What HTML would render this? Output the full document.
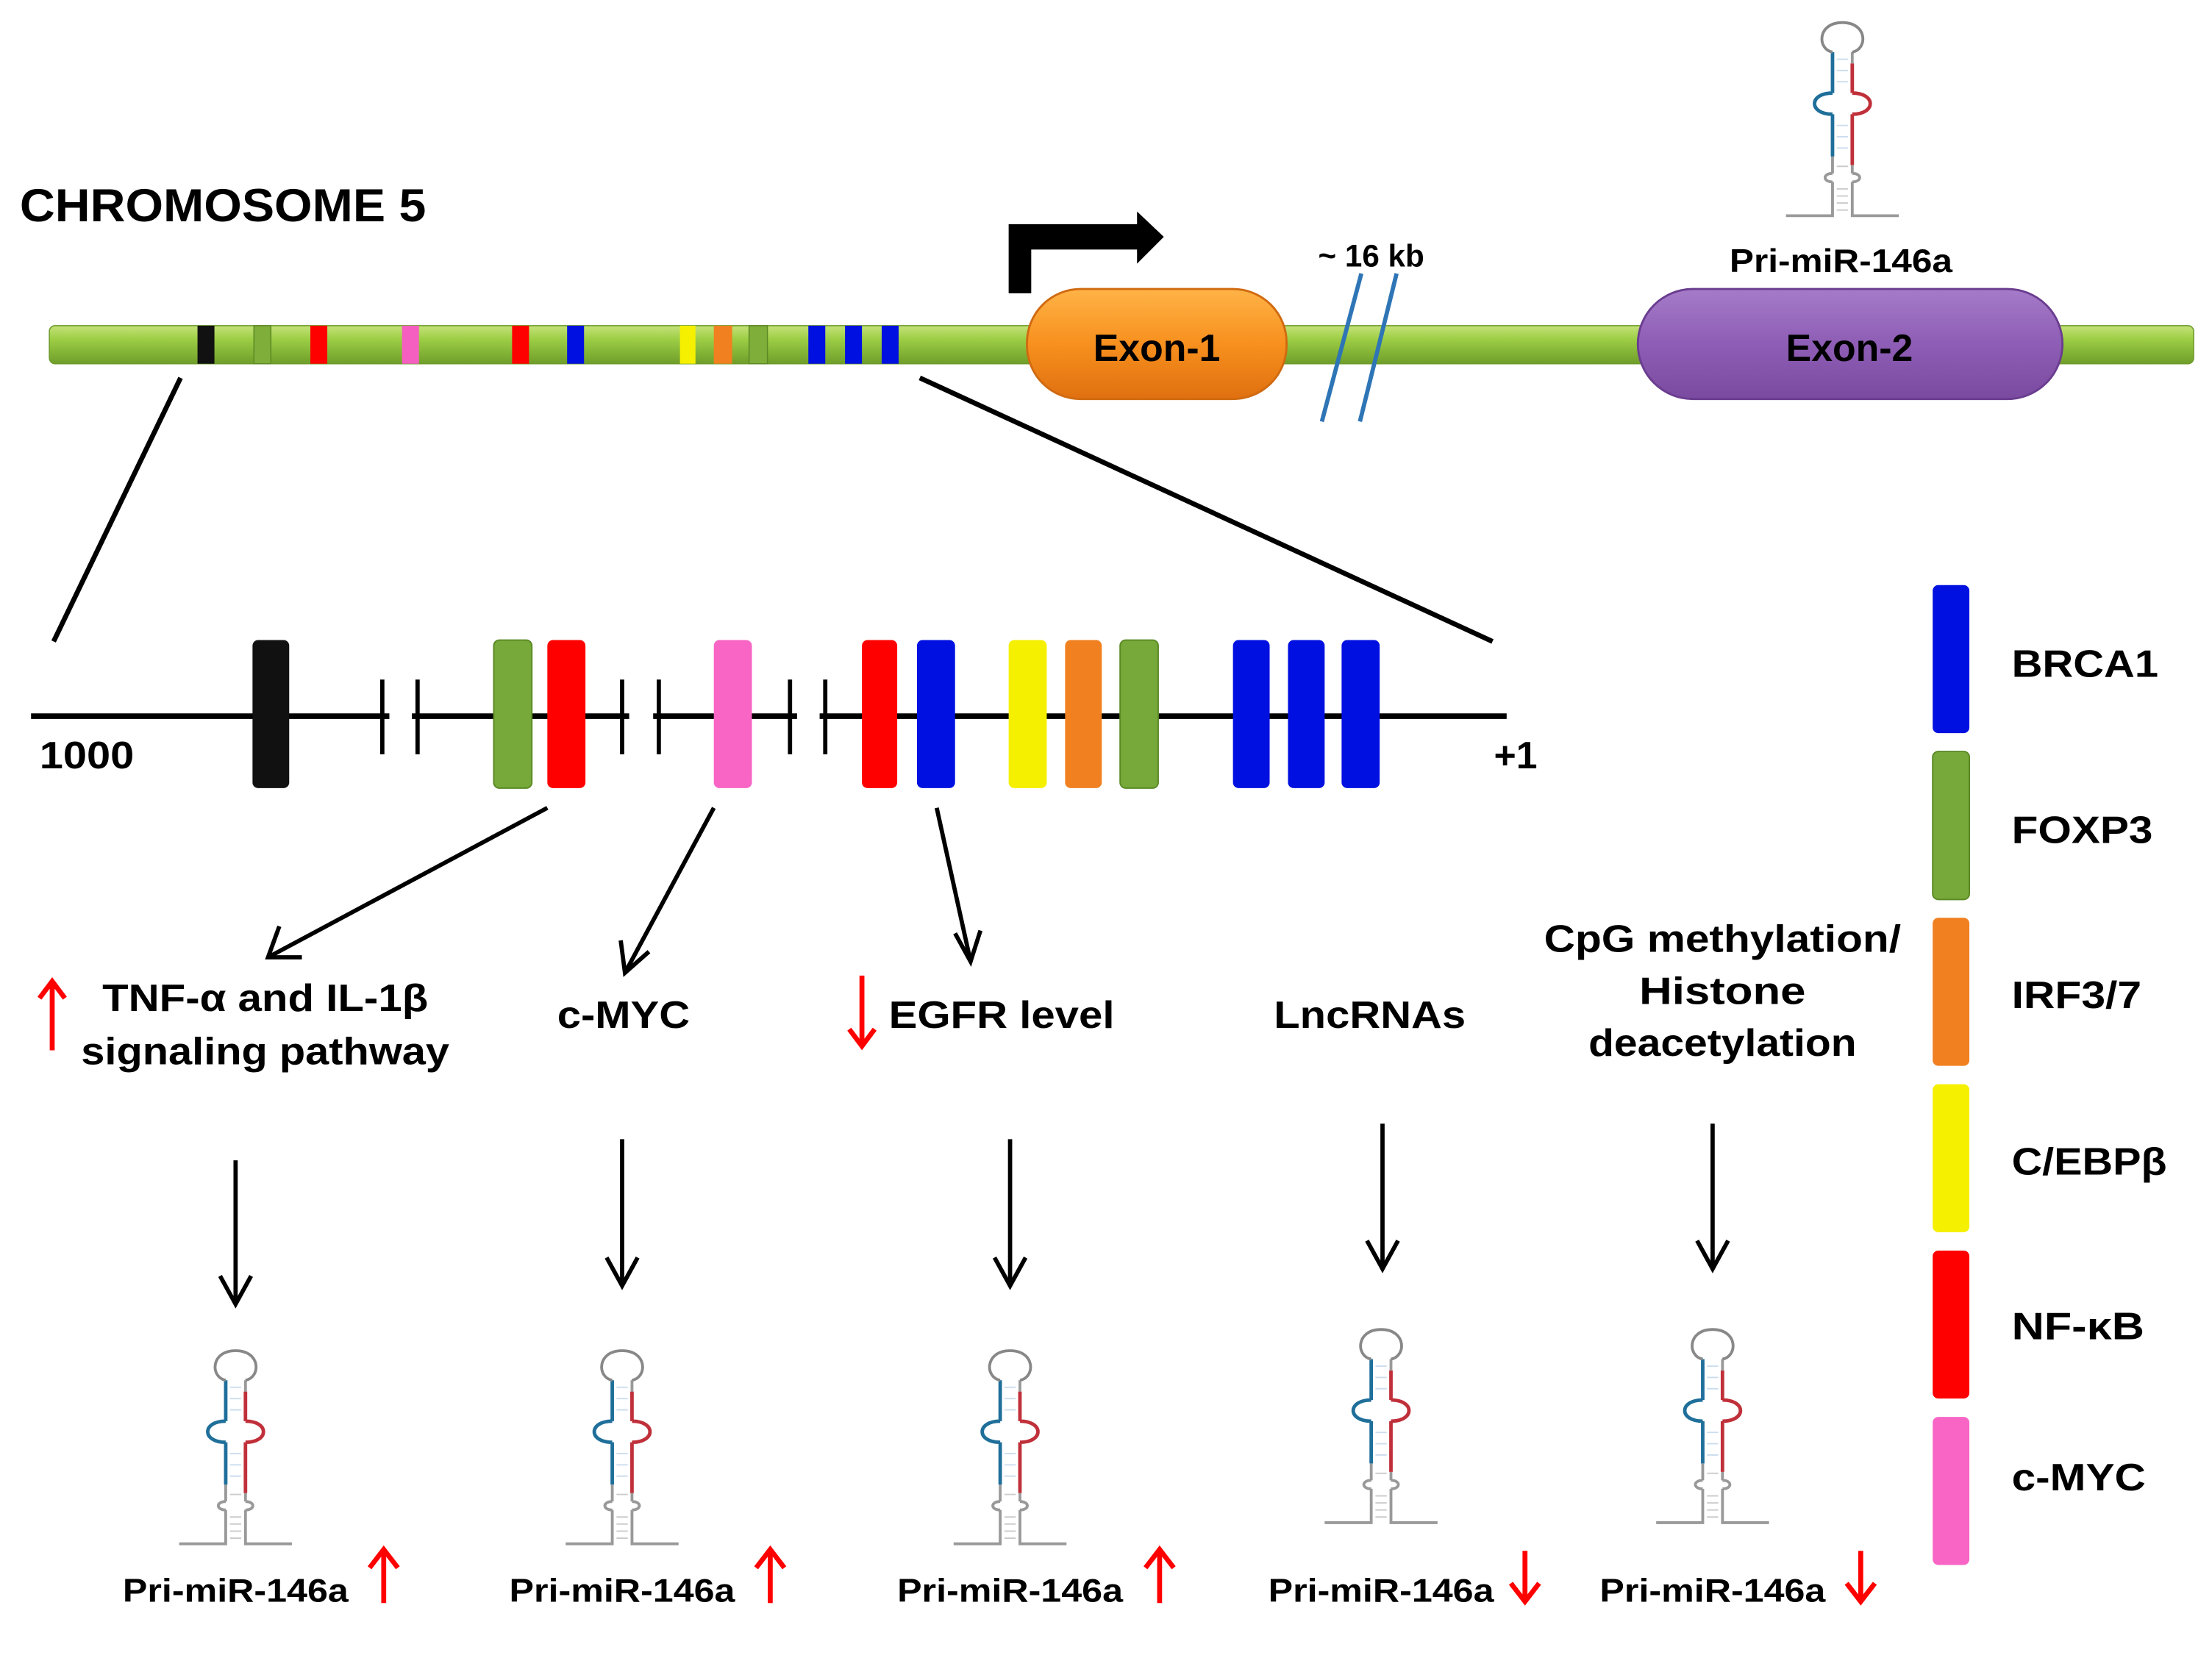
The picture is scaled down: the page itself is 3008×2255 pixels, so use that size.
<!DOCTYPE html>
<html><head><meta charset="utf-8"><style>
html,body{margin:0;padding:0;background:#fff;}
svg{display:block;}
text{font-family:"Liberation Sans",Arial,sans-serif;font-weight:bold;fill:#000;}
</style></head><body>
<svg width="3008" height="2255" viewBox="0 0 1568 1176" preserveAspectRatio="none" xmlns="http://www.w3.org/2000/svg">
<defs>
<linearGradient id="gbar" x1="0" y1="0" x2="0" y2="1"><stop offset="0" stop-color="#c5e27a"/><stop offset="0.35" stop-color="#9dce45"/><stop offset="1" stop-color="#6f9e2a"/></linearGradient>
<linearGradient id="gex1" x1="0" y1="0" x2="0" y2="1"><stop offset="0" stop-color="#ffb347"/><stop offset="0.5" stop-color="#f7901e"/><stop offset="1" stop-color="#e07010"/></linearGradient>
<linearGradient id="gex2" x1="0" y1="0" x2="0" y2="1"><stop offset="0" stop-color="#a57bc9"/><stop offset="0.5" stop-color="#8e5db5"/><stop offset="1" stop-color="#7a4aa0"/></linearGradient>
<g id="hp" fill="none" stroke-width="2">
  <path d="M-40,0 H-7 V-24 M40,0 H7 V-24" stroke="#999"/>
  <path d="M-7,-24 C-14,-24 -14,-30 -7,-30 M7,-24 C14,-24 14,-30 7,-30" stroke="#999"/>
  <path d="M-7,-30 V-42 M7,-30 V-36" stroke="#999"/>
  <path d="M-4,-4 H4 M-4,-9 H4 M-4,-14 H4 M-4,-19 H4 M-4,-35 H4" stroke="#ccc" stroke-width="1"/>
  <path d="M-4,-48 H4 M-4,-56 H4 M-4,-64 H4 M-4,-95 H4 M-4,-103 H4 M-4,-111 H4" stroke="#cde" stroke-width="1"/>
  <path d="M-7,-42 V-72 M-7,-87 V-116" stroke="#1f6f9a" stroke-width="2.5"/>
  <path d="M7,-36 V-72 M7,-87 V-108" stroke="#c0303a" stroke-width="2.5"/>
  <path d="M7,-108 V-116" stroke="#999"/>
  <path d="M-7,-72 C-24,-72 -24,-87 -7,-87" stroke="#1f6f9a" stroke-width="2.5"/>
  <path d="M7,-72 C24,-72 24,-87 7,-87" stroke="#c0303a" stroke-width="2.5"/>
  <path d="M-7,-116 C-18,-118 -18,-137 0,-137 C18,-137 18,-118 7,-116" stroke="#888"/>
</g>
</defs>

<text x="14" y="157" font-size="33" textLength="288" lengthAdjust="spacingAndGlyphs">CHROMOSOME 5</text>

<rect x="35" y="231" width="1520" height="27" rx="4" fill="url(#gbar)" stroke="#6c9a2a" stroke-width="0.8"/>
<g>
<rect x="140" y="231" width="12" height="27" fill="#111"/>
<rect x="180" y="231" width="12" height="27" fill="#7fae3a" stroke="#5d8a25" stroke-width="0.8"/>
<rect x="220" y="231" width="12" height="27" fill="#f00"/>
<rect x="285" y="231" width="12" height="27" fill="#f55fc0"/>
<rect x="363" y="231" width="12" height="27" fill="#f00"/>
<rect x="402" y="231" width="12" height="27" fill="#0010e0"/>
<rect x="482" y="231" width="11" height="27" fill="#f5f000"/>
<rect x="506" y="231" width="13" height="27" fill="#f08020"/>
<rect x="531" y="231" width="13" height="27" fill="#7fae3a" stroke="#5d8a25" stroke-width="0.8"/>
<rect x="573" y="231" width="12" height="27" fill="#0010e0"/>
<rect x="599" y="231" width="12" height="27" fill="#0010e0"/>
<rect x="625" y="231" width="12" height="27" fill="#0010e0"/>
</g>

<path d="M715,208 V159 H806 V150 L825,168 L806,187 V177 H731 V208 Z" fill="#000"/>

<rect x="728" y="205" width="184" height="78" rx="38" fill="url(#gex1)" stroke="#d06a10" stroke-width="1.5"/>
<text x="820" y="256" font-size="27" text-anchor="middle">Exon-1</text>
<rect x="1161" y="205" width="301" height="78" rx="39" fill="url(#gex2)" stroke="#6a3d8f" stroke-width="1.5"/>
<text x="1311" y="256" font-size="27" text-anchor="middle">Exon-2</text>

<line x1="965" y1="194" x2="937" y2="299" stroke="#2e75b6" stroke-width="3"/>
<line x1="990" y1="194" x2="964" y2="299" stroke="#2e75b6" stroke-width="3"/>
<text x="972" y="189" font-size="22" text-anchor="middle">~ 16 kb</text>

<use href="#hp" transform="translate(1306,153)"/>
<text x="1305" y="193" font-size="23" text-anchor="middle" textLength="158" lengthAdjust="spacingAndGlyphs">Pri-miR-146a</text>

<line x1="128" y1="268" x2="38" y2="455" stroke="#000" stroke-width="3.5"/>
<line x1="652" y1="268" x2="1058" y2="455" stroke="#000" stroke-width="3.5"/>

<line x1="22" y1="508" x2="1068" y2="508" stroke="#000" stroke-width="4"/>
<g stroke="#000" stroke-width="3">
<line x1="271" y1="482" x2="271" y2="535"/><line x1="296" y1="482" x2="296" y2="535"/>
<line x1="441" y1="482" x2="441" y2="535"/><line x1="467" y1="482" x2="467" y2="535"/>
<line x1="560" y1="482" x2="560" y2="535"/><line x1="585" y1="482" x2="585" y2="535"/>
</g>
<line x1="276" y1="508" x2="292" y2="508" stroke="#fff" stroke-width="5"/>
<line x1="446" y1="508" x2="463" y2="508" stroke="#fff" stroke-width="5"/>
<line x1="565" y1="508" x2="581" y2="508" stroke="#fff" stroke-width="5"/>
<g>
<rect x="179" y="454" width="26" height="105" rx="4" fill="#111"/>
<rect x="350" y="454" width="27" height="105" rx="4" fill="#76a83a" stroke="#5a8a25"/>
<rect x="388" y="454" width="27" height="105" rx="4" fill="#f00"/>
<rect x="506" y="454" width="27" height="105" rx="4" fill="#f865c4"/>
<rect x="611" y="454" width="25" height="105" rx="4" fill="#f00"/>
<rect x="650" y="454" width="27" height="105" rx="4" fill="#0010e0"/>
<rect x="715" y="454" width="27" height="105" rx="4" fill="#f5f000"/>
<rect x="755" y="454" width="26" height="105" rx="4" fill="#f08020"/>
<rect x="794" y="454" width="27" height="105" rx="4" fill="#76a83a" stroke="#5a8a25"/>
<rect x="874" y="454" width="26" height="105" rx="4" fill="#0010e0"/>
<rect x="913" y="454" width="26" height="105" rx="4" fill="#0010e0"/>
<rect x="951" y="454" width="27" height="105" rx="4" fill="#0010e0"/>
</g>
<text x="28" y="545" font-size="27" textLength="67" lengthAdjust="spacingAndGlyphs">1000</text>
<text x="1059" y="545" font-size="27">+1</text>

<g stroke="#000" stroke-width="3" fill="none">
<line x1="388" y1="573" x2="190" y2="679"/><polyline points="198,657 190,679 214,679"/>
<line x1="506" y1="573" x2="443" y2="690"/><polyline points="440,667 443,690 460,675"/>
<line x1="664" y1="573" x2="688" y2="682"/><polyline points="677,662 688,682 695,660"/>
</g>

<text x="188" y="717" font-size="27" text-anchor="middle" textLength="231" lengthAdjust="spacingAndGlyphs">TNF-α and IL-1β</text>
<text x="188" y="755" font-size="27" text-anchor="middle" textLength="261" lengthAdjust="spacingAndGlyphs">signaling pathway</text>
<text x="442" y="729" font-size="27" text-anchor="middle" textLength="94" lengthAdjust="spacingAndGlyphs">c-MYC</text>
<text x="630" y="729" font-size="27" textLength="160" lengthAdjust="spacingAndGlyphs">EGFR level</text>
<text x="971" y="729" font-size="27" text-anchor="middle" textLength="136" lengthAdjust="spacingAndGlyphs">LncRNAs</text>
<text x="1221" y="675" font-size="27" text-anchor="middle" textLength="253" lengthAdjust="spacingAndGlyphs">CpG methylation/</text>
<text x="1221" y="712" font-size="27" text-anchor="middle" textLength="118" lengthAdjust="spacingAndGlyphs">Histone</text>
<text x="1221" y="749" font-size="27" text-anchor="middle" textLength="190" lengthAdjust="spacingAndGlyphs">deacetylation</text>

<g stroke="#f00" stroke-width="3.5" fill="none">
<line x1="37" y1="745" x2="37" y2="697"/><polyline points="28,708 37,696 46,708"/>
<line x1="611" y1="692" x2="611" y2="741"/><polyline points="602,730 611,742 620,730"/>
</g>

<g stroke="#000" stroke-width="3" fill="none">
<line x1="167" y1="823" x2="167" y2="925"/><polyline points="156,905 167,925 178,905"/>
<line x1="441" y1="808" x2="441" y2="912"/><polyline points="430,892 441,912 452,892"/>
<line x1="716" y1="808" x2="716" y2="912"/><polyline points="705,892 716,912 727,892"/>
<line x1="980" y1="797" x2="980" y2="900"/><polyline points="969,880 980,900 991,880"/>
<line x1="1214" y1="797" x2="1214" y2="900"/><polyline points="1203,880 1214,900 1225,880"/>
</g>

<use href="#hp" transform="translate(167,1095)"/>
<use href="#hp" transform="translate(441,1095)"/>
<use href="#hp" transform="translate(716,1095)"/>
<use href="#hp" transform="translate(979,1080)"/>
<use href="#hp" transform="translate(1214,1080)"/>

<g font-size="23">
<text x="167" y="1136" text-anchor="middle" textLength="160" lengthAdjust="spacingAndGlyphs">Pri-miR-146a</text>
<text x="441" y="1136" text-anchor="middle" textLength="160" lengthAdjust="spacingAndGlyphs">Pri-miR-146a</text>
<text x="716" y="1136" text-anchor="middle" textLength="160" lengthAdjust="spacingAndGlyphs">Pri-miR-146a</text>
<text x="979" y="1136" text-anchor="middle" textLength="160" lengthAdjust="spacingAndGlyphs">Pri-miR-146a</text>
<text x="1214" y="1136" text-anchor="middle" textLength="160" lengthAdjust="spacingAndGlyphs">Pri-miR-146a</text>
</g>
<g stroke="#f00" stroke-width="3.5" fill="none">
<line x1="272" y1="1137" x2="272" y2="1100"/><polyline points="262,1112 272,1099 282,1112"/>
<line x1="546" y1="1137" x2="546" y2="1100"/><polyline points="536,1112 546,1099 556,1112"/>
<line x1="822" y1="1137" x2="822" y2="1100"/><polyline points="812,1112 822,1099 832,1112"/>
<line x1="1081" y1="1100" x2="1081" y2="1135"/><polyline points="1071,1123 1081,1136 1091,1123"/>
<line x1="1319" y1="1100" x2="1319" y2="1135"/><polyline points="1309,1123 1319,1136 1329,1123"/>
</g>

<rect x="1370" y="415" width="26" height="105" rx="4" fill="#0010e0"/>
<rect x="1370" y="533" width="26" height="105" rx="4" fill="#76a83a" stroke="#5a8a25"/>
<rect x="1370" y="651" width="26" height="105" rx="4" fill="#f08020"/>
<rect x="1370" y="769" width="26" height="105" rx="4" fill="#f5f000"/>
<rect x="1370" y="887" width="26" height="105" rx="4" fill="#f00"/>
<rect x="1370" y="1005" width="26" height="105" rx="4" fill="#f865c4"/>
<g font-size="27">
<text x="1426" y="480" textLength="104" lengthAdjust="spacingAndGlyphs">BRCA1</text>
<text x="1426" y="598" textLength="100" lengthAdjust="spacingAndGlyphs">FOXP3</text>
<text x="1426" y="715" textLength="92" lengthAdjust="spacingAndGlyphs">IRF3/7</text>
<text x="1426" y="833" textLength="110" lengthAdjust="spacingAndGlyphs">C/EBPβ</text>
<text x="1426" y="950" textLength="94" lengthAdjust="spacingAndGlyphs">NF-κB</text>
<text x="1426" y="1057" textLength="95" lengthAdjust="spacingAndGlyphs">c-MYC</text>
</g>
</svg>
</body></html>
